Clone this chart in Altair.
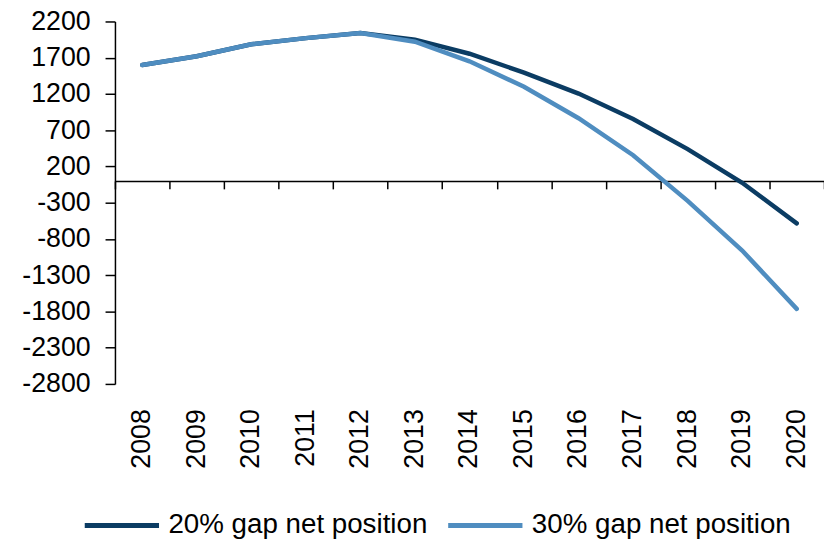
import altair as alt
import pandas as pd

years = [str(y) for y in range(2008, 2021)]
gap20 = [1600, 1720, 1885, 1970, 2040, 1950, 1755, 1495, 1205, 855, 440, -25, -585]
gap30 = [1600, 1720, 1885, 1970, 2040, 1920, 1650, 1300, 865, 355, -275, -960, -1765]
series_names = ["20% gap net position", "30% gap net position"]
series_colors = ["#0B3C63", "#4F8DC0"]
y_ticks = [2200, 1700, 1200, 700, 200, -300, -800, -1300, -1800, -2300, -2800]

rows = []
for name, vals in zip(series_names, [gap20, gap30]):
    for yr, v in zip(years, vals):
        rows.append({"year": yr, "value": v, "series": name})
df = pd.DataFrame(rows)

FONT = "Liberation Sans"
H = 366
W = 716
ymin, ymax = -2800, 2200
zero_offset = -(H - H * (ymax - 0) / (ymax - ymin))

xscale = alt.Scale(type="band", paddingInner=0, paddingOuter=0, domain=years)
yscale = alt.Scale(domain=[ymin, ymax], nice=False, zero=False)


def yaxis():
    return alt.Axis(values=y_ticks, labelExpr="'' + datum.value", labelOverlap=False,
                    labelFlush=False, grid=False, domainColor="black", domainWidth=1.5,
                    tickColor="black", tickWidth=1.5, tickSize=10, labelPadding=15,
                    labelFontSize=27, labelFont=FONT, labelColor="black", title=None)


lines = alt.Chart(df).mark_line(strokeWidth=4.5, strokeCap="round").encode(
    x=alt.X("year:N", scale=xscale, bandPosition=0.5,
            axis=alt.Axis(orient="bottom", domain=False, ticks=False, labelAngle=270,
                          labelPadding=25, labelOverlap=False,
                          labelFontSize=27, labelFont=FONT, labelColor="black",
                          title=None, grid=False)),
    y=alt.Y("value:Q", scale=yscale, axis=yaxis()),
    color=alt.Color("series:N",
                    scale=alt.Scale(domain=series_names, range=series_colors),
                    legend=alt.Legend(orient="none", direction="horizontal",
                                      legendX=-33, legendY=469, title=None,
                                      symbolType="stroke", symbolSize=5625,
                                      symbolStrokeWidth=5, labelFontSize=28,
                                      labelLimit=0,
                                      labelFont=FONT, labelColor="black",
                                      labelOffset=7, columnPadding=10)),
)

ticks_layer = alt.Chart(df).mark_point(opacity=0).encode(
    x=alt.X("year:N", scale=xscale, bandPosition=0.5,
            axis=alt.Axis(orient="bottom", labels=False, domain=True, domainColor="black",
                          domainWidth=1.5, ticks=True, tickBand="extent",
                          tickColor="black", tickWidth=1.5,
                          tickSize=8, offset=zero_offset, title=None, grid=False)),
    y=alt.Y("value:Q", scale=yscale, axis=yaxis()),
)

chart = alt.layer(ticks_layer, lines).resolve_axis(x="independent").properties(
    width=W, height=H,
    autosize=alt.AutoSizeParams(type="none"),
    padding={"left": 108, "top": 11, "right": 0, "bottom": 155},
).configure_view(stroke=None)

chart.save("out.html", embed_options={"renderer": "svg", "actions": False})
